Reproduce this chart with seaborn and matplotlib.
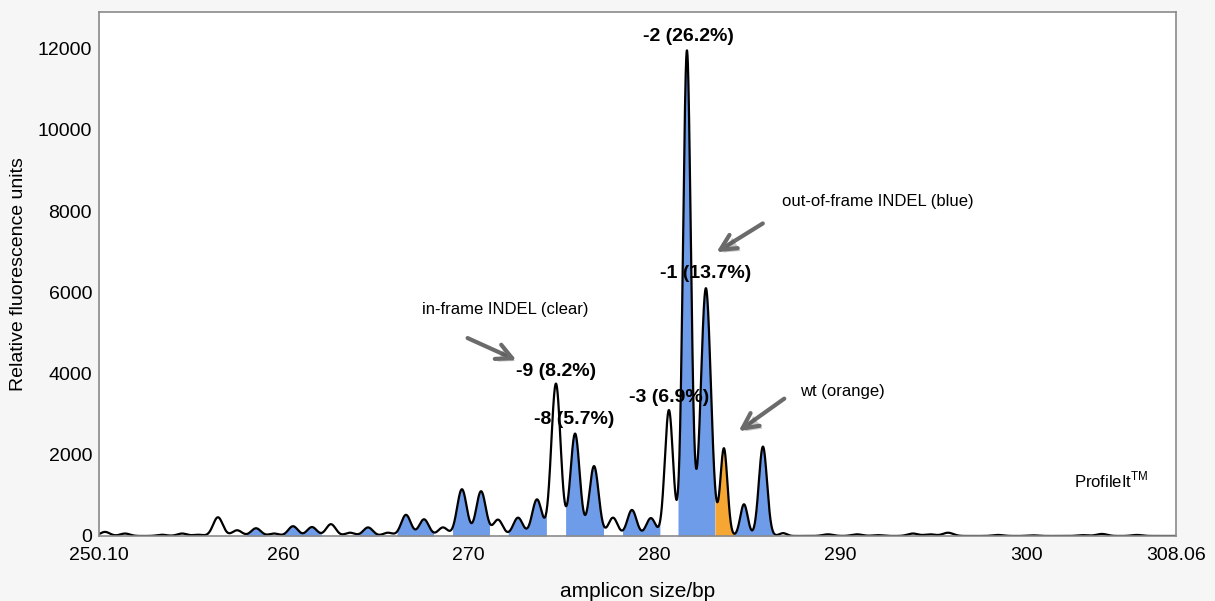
import numpy as np
import pandas as pd
import seaborn as sns
import matplotlib.pyplot as plt
from matplotlib import patheffects as pe

# Peaks: size (bp), height (RFU), width (bp) and fill class
peak_bp = [250.42, 251.50, 253.49, 254.57, 255.43, 256.50, 257.53, 258.55, 259.52,
           260.54, 261.56, 262.58, 263.61, 264.58, 265.65, 266.62, 267.59, 268.61,
           269.63, 270.66, 271.57, 272.65, 273.67, 274.69, 275.72, 276.74, 277.76,
           278.78, 279.80, 280.77, 281.74, 282.76, 283.73, 284.81, 285.83, 286.91,
           289.33, 290.89, 292.02, 293.90, 294.82, 295.79, 298.48, 300.36, 303.05,
           304.07, 305.96]
peak_rfu = [100, 60, 30, 60, 30, 460, 140, 190, 60,
            240, 220, 290, 80, 210, 80, 520, 410, 210,
            1150, 1100, 400, 450, 900, 3750, 2520, 1720, 450,
            640, 440, 3100, 11950, 6100, 2150, 780, 2200, 70,
            40, 40, 20, 60, 40, 80, 25, 15, 20,
            50, 25]
peak_width = [0.26] * 23 + [0.25, 0.25, 0.25, 0.25, 0.25, 0.25, 0.22,
                            0.21, 0.27, 0.19, 0.2, 0.22, 0.2] + [0.28] * 11
peak_class = ['clear', 'clear', 'clear', 'clear', 'clear', 'clear', 'clear', 'blue', 'clear',
              'blue', 'blue', 'clear', 'clear', 'blue', 'clear', 'blue', 'blue', 'clear',
              'blue', 'blue', 'clear', 'blue', 'blue', 'clear', 'blue', 'blue', 'clear',
              'blue', 'blue', 'clear', 'blue', 'blue', 'orange', 'blue', 'blue', 'clear'] + ['clear'] * 11

peak_labels = ['-2 (26.2%)', '-1 (13.7%)', '-9 (8.2%)', '-8 (5.7%)', '-3 (6.9%)']
label_x = [281.80, 282.77, 274.69, 275.66, 280.77]
label_y = [12300, 6450, 4040, 2860, 3420]

x_ticks = [250.10, 260, 270, 280, 290, 300, 308.06]
x_tick_labels = ['250.10', '260', '270', '280', '290', '300', '308.06']
y_ticks = [0, 2000, 4000, 6000, 8000, 10000, 12000]

colors = {'blue': '#6f9ce9', 'orange': '#f6a733'}

# trace
x = np.linspace(250.10, 308.06, 6000)
y = np.zeros_like(x)
for b, h, w in zip(peak_bp, peak_rfu, peak_width):
    y += h * np.exp(-0.5 * ((x - b) / w) ** 2)
trace = pd.DataFrame({'bp': x, 'rfu': y})

sns.set_style('white')
plt.rcParams['font.family'] = ['Liberation Sans', 'DejaVu Sans']
plt.rcParams['text.color'] = 'black'
plt.rcParams['axes.labelcolor'] = 'black'
plt.rcParams['xtick.color'] = 'black'
plt.rcParams['ytick.color'] = 'black'

fig = plt.figure(figsize=(12.15, 6.01), dpi=100, facecolor='#f6f6f6')
ax = fig.add_axes([0.0815, 0.1082, 0.8864, 0.8719])
ax.set_facecolor('white')

# coloured peak areas, bounded halfway to the neighbouring peaks;
# neighbouring peaks of the same class are filled as one run
bounds = [250.10] + [(a + b) / 2 for a, b in zip(peak_bp[:-1], peak_bp[1:])] + [308.06]
i = 0
while i < len(peak_class):
    cls = peak_class[i]
    j = i
    while j + 1 < len(peak_class) and peak_class[j + 1] == cls:
        j += 1
    if cls != 'clear':
        m = (x >= bounds[i]) & (x <= bounds[j + 1])
        ax.fill_between(x[m], 0, y[m], color=colors[cls], lw=0)
    i = j + 1

sns.lineplot(data=trace, x='bp', y='rfu', ax=ax, color='black', lw=1.6)

for t, lx, ly in zip(peak_labels, label_x, label_y):
    ax.text(lx, ly, t, ha='center', va='center', fontsize=14, fontweight='bold')

arrow = dict(arrowstyle='->', lw=3, color='#6b6b6b', mutation_scale=28,
             path_effects=[pe.withSimplePatchShadow(offset=(2, -2), alpha=0.3)])
ax.annotate('', xy=(272.7, 4300), xytext=(269.8, 4900), arrowprops=arrow)
ax.text(271.95, 5570, 'in-frame INDEL (clear)', ha='center', va='center', fontsize=12)
ax.annotate('', xy=(283.2, 6950), xytext=(285.95, 7730), arrowprops=arrow)
ax.text(286.85, 8230, 'out-of-frame INDEL (blue)', ha='left', va='center', fontsize=12)
ax.annotate('', xy=(284.4, 2540), xytext=(287.1, 3420), arrowprops=arrow)
ax.text(287.82, 3550, 'wt (orange)', ha='left', va='center', fontsize=12)
ax.text(306.6, 1380, 'ProfileIt$^{\\mathregular{TM}}$', ha='right', va='center', fontsize=12)

ax.set_xlim(250.10, 308.06)
ax.set_ylim(0, 12900)
ax.set_xticks(x_ticks)
ax.set_xticklabels(x_tick_labels)
ax.set_yticks(y_ticks)
ax.tick_params(axis='both', length=0, labelsize=14)
ax.tick_params(axis='x', pad=8)
ax.tick_params(axis='y', pad=5)
ax.set_xlabel('amplicon size/bp', fontsize=15, labelpad=13)
ax.set_ylabel('Relative fluorescence units', fontsize=14, labelpad=8)
for s in ax.spines.values():
    s.set_color('#8a8a8a')
    s.set_linewidth(1.2)

fig.savefig('out.png', dpi=100, facecolor=fig.get_facecolor())
